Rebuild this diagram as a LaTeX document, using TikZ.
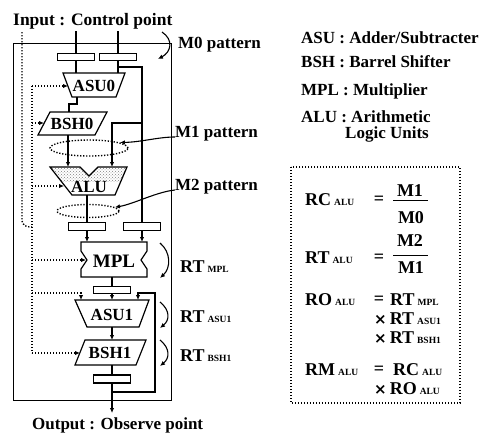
\documentclass[tikz,border=0pt]{standalone}
\usepackage{fontspec}
\setmainfont{Liberation Serif}
\newfontfamily\djv{DejaVu Sans}
\usetikzlibrary{arrows.meta,patterns,shapes.geometric}
\newcommand\subsc[1]{\,{\fontsize{9.5}{10}\selectfont\bfseries #1}}
\newcommand\tms{{\djv\fontsize{15}{15}\selectfont\bfseries ×}}
\begin{document}
\begin{tikzpicture}[x=1pt,y=-1pt,
  wire/.style={line width=1.1pt},
  ar/.style={wire,-{Latex[length=5pt,width=4.5pt]}},
  dotl/.style={line width=1.4pt,dash pattern=on 1.3pt off 1.7pt},
  dar/.style={dotl,-{Latex[length=5pt,width=4.5pt]}},
  blk/.style={draw,line width=1.2pt,fill=white},
  regbox/.style={draw,line width=1.3pt,fill=white,minimum width=37pt,minimum height=7.5pt,inner sep=0pt},
  lbl/.style={font=\fontsize{17}{17}\selectfont\bfseries,inner sep=0pt},
  txt/.style={font=\fontsize{17}{17}\selectfont\bfseries,inner sep=0pt,anchor=base west},
  eq/.style={font=\fontsize{18}{18}\selectfont\bfseries,inner sep=0pt,anchor=base west},
  eqc/.style={font=\fontsize{18}{18}\selectfont\bfseries,inner sep=0pt},
  patt/.style={draw,dotl,ellipse,inner sep=0pt}
]
\useasboundingbox (0,0) rectangle (483,434);

% outer box
\draw[line width=1pt] (13,43) rectangle (171,400);

% outer dotted control line
\draw[dotl] (22,32) -- (22,219) .. controls (22,226) and (26,227) .. (32,227);
% inner dotted control line
\draw[dotl] (32,86) -- (32,353);

% input lines and registers
\coordinate (inA) at (76,31);
\coordinate (inB) at (118,31);
\node[regbox] (rA) at (76,57) {};
\node[regbox] (rB) at (118,57) {};
\draw[wire] (inA) -- (rA.north);
\draw[wire] (inB) -- (rB.north);

% ASU0
\draw[blk] (63,73) -- (125,73) -- (116,97) -- (72,97) -- cycle;
\node[lbl] (asu0) at (94,86) {ASU0};
\coordinate (a0A) at (76,73);
\coordinate (a0B) at (118,73);
\draw[wire] (rA.south) -- (a0A);
\draw[wire] (rB.south) -- (a0B);

% right column
\node[regbox] (rC) at (87,226.5) {};
\node[regbox] (rD) at (142,226.5) {};
\draw[wire] (118,67) -| (rD.north);
\coordinate (aluB) at (112,167);
\draw[ar] (142,123) -| (aluB);

% BSH0
\draw[blk] (50,112) -- (107,112) -- (95,135) -- (38,135) -- cycle;
\node[lbl] (bsh0) at (72,124) {BSH0};
\coordinate (a0out) at (77,97);
\coordinate (b0in) at (69,112);
\draw[wire] (a0out) -- (77,104) -| (b0in);

% ALU
\begin{scope}
\clip (50,167) -- (80,167) -- (89,176) -- (98,167) -- (127,167) -- (115,195) -- (72,195) -- cycle;
\fill[white] (40,160) rectangle (140,200);
\fill[pattern=crosshatch dots, pattern color=gray] (40,160) rectangle (140,181);
\end{scope}
\draw[line width=1.2pt] (50,167) -- (80,167) -- (89,176) -- (98,167) -- (127,167) -- (115,195) -- (72,195) -- cycle;
\node[lbl] (alu) at (89,187) {ALU};
\coordinate (aluA) at (68,167);
\coordinate (b0out) at (68,135);
\draw[ar] (b0out) -- (aluA);
\coordinate (aluout) at (87,195);
\draw[wire] (aluout) -- (rC.north);

% pattern ellipses
\node[patt,minimum width=78pt,minimum height=16pt] (m1) at (89,148) {};
\node[patt,minimum width=62pt,minimum height=13pt] (m2) at (88,211) {};

% MPL
\draw[blk] (81,242) -- (147,242) -- (147,251) -- (141,260) -- (147,269) -- (147,277) -- (81,277) -- (81,269) -- (87,260) -- (81,251) -- cycle;
\node[font=\fontsize{19}{19}\selectfont\bfseries,inner sep=0pt] (mpl) at (114,261) {MPL};
\coordinate (mplA) at (87,242);
\coordinate (mplB) at (142,242);
\draw[ar] (rC.south) -- (mplA);
\draw[ar] (rD.south) -- (mplB);
\node[regbox] (rE) at (112,290) {};
\coordinate (mplout) at (112,277);
\draw[wire] (mplout) -- (rE.north);

% ASU1
\draw[blk] (75,300) -- (149,300) -- (139,327) -- (87,327) -- cycle;
\node[lbl] (asu1) at (112,315) {ASU1};
\coordinate (a1A) at (81,300);
\coordinate (a1M) at (112,300);
\coordinate (a1B) at (138,300);
\draw[ar] (rE.south) -- (a1M);
\draw[dar] (32,293) -| (a1A);

% BSH1
\draw[blk] (85,340) -- (146,340) -- (136,365) -- (75,365) -- cycle;
\node[lbl] (bsh1) at (110,353) {BSH1};
\coordinate (a1out) at (112,327);
\coordinate (b1in) at (112,340);
\draw[ar] (a1out) -- (b1in);
\node[regbox,minimum height=8pt] (rF) at (112,379) {};
\coordinate (b1out) at (112,365);
\draw[wire] (b1out) -- (rF.north);
\coordinate (out) at (112,413);
\draw[ar] (rF.south) -- (out);
\coordinate (fb) at (112,392);
\draw[ar] (fb) -| (155,293) -| (a1B);

% dotted control arrows
\draw[dar] (32,86) -- (68,86);
\draw[dar] (32,123) -- (44,123);
\draw[dar] (32,186) -- (64,186);
\draw[dar] (32,260) -- (86,260);
\draw[dar] (32,353) -- (80,353);

% labels left
\node[txt,font=\fontsize{17.5}{17}\selectfont\bfseries] (inlab) at (13,25) {Input : Control point};
\node[txt] (outlab) at (32,429) {Output : Observe point};
\node[txt] (m0lab) at (178,48) {M0 pattern};
\node[txt] (m1lab) at (175,137) {M1 pattern};
\node[txt] (m2lab) at (175,190) {M2 pattern};
\node[eq] (rtmpl) at (180,272) {RT\subsc{MPL}};
\node[eq] (rtasu) at (180,322) {RT\subsc{ASU1}};
\node[eq] (rtbsh) at (180,361) {RT\subsc{BSH1}};

% curved arrows
\draw[ar] (162,32) .. controls (174,40) and (171,52) .. (158,59);
\draw[ar] (m1lab.base west) .. controls (158,137) and (142,142) .. (m1.10);
\draw[ar] (m2lab.base west) .. controls (156,192) and (134,204) .. (m2.8);
\draw[ar] (160,243) .. controls (171,252) and (171,268) .. (160,278);
\draw[ar] (160,302) .. controls (170,310) and (170,320) .. (160,328);
\draw[ar] (160,340) .. controls (170,348) and (170,358) .. (160,366);

% legend
\node[txt] (lg1) at (301,43) {ASU : Adder/Subtracter};
\node[txt] (lg2) at (301,67) {BSH : Barrel Shifter};
\node[txt] (lg3) at (301,95) {MPL : Multiplier};
\node[txt] (lg4) at (301,122) {ALU : Arithmetic};
\node[txt] (lg5) at (345,138) {Logic Units};

% formula box
\draw[dotl] (291,167) rectangle (460,403);
\node[eq] (e1) at (305,205) {RC\subsc{ALU}};
\node[eqc] (e1q) at (379,200) {=};
\node[eqc] (e1n) at (410,191) {M1};
\node[eqc] (e1d) at (411,218) {M0};
\draw[line width=1pt] (393,200) -- (428,200);

\node[eq] (e2) at (305,263) {RT\subsc{ALU}};
\node[eqc] (e2q) at (379,258) {=};
\node[eqc] (e2n) at (410,241) {M2};
\node[eqc] (e2d) at (411,268) {M1};
\draw[line width=1pt] (393,255) -- (428,255);

\node[eq] (e3) at (305,305) {RO\subsc{ALU}};
\node[eqc] (e3q) at (379,300) {=};
\node[eq] (e3a) at (390,305) {RT\subsc{MPL}};
\node[eq] (e3b) at (374,324) {\tms\,RT\subsc{ASU1}};
\node[eq] (e3c) at (374,343) {\tms\,RT\subsc{BSH1}};

\node[eq] (e4) at (305,375) {RM\subsc{ALU}};
\node[eqc] (e4q) at (379,370) {=};
\node[eq] (e4a) at (393,375) {RC\subsc{ALU}};
\node[eq] (e4b) at (374,394) {\tms\,RO\subsc{ALU}};
\end{tikzpicture}
\end{document}
